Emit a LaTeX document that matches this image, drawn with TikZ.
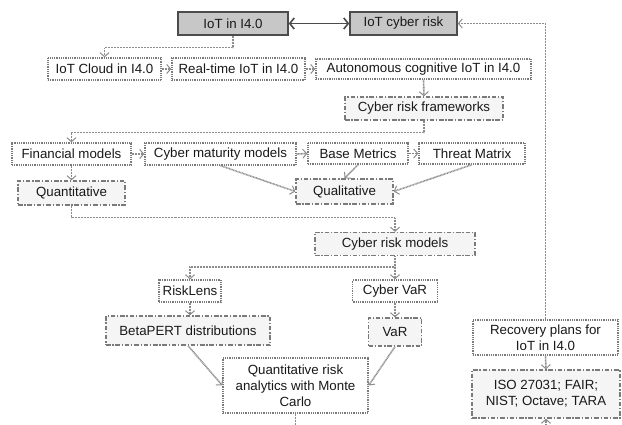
\documentclass[tikz,border=0pt]{standalone}
\usepackage{fontspec}
\setmainfont{Liberation Sans}
\usetikzlibrary{arrows.meta}
\begin{document}
\begin{tikzpicture}[x=1pt,y=-1pt,
  every node/.style={font=\fontsize{13.3}{16}\selectfont, text=black!90, inner sep=0pt, align=center},
  mainbox/.style={draw=black!70, line width=1.4pt, fill=black!22},
  dotbox/.style={draw=black!52, line width=1.3pt, dash pattern=on 1pt off 0.8pt, fill=white},
  ddbox/.style={draw=black!52, line width=1.3pt, dash pattern=on 4.5pt off 1.8pt on 1.3pt off 1.8pt, fill=black!4},
  conn/.style={draw=black!45, line width=1.6pt, dash pattern=on 0.9pt off 0.6pt,
     -{Straight Barb[length=4pt,width=9pt,line width=1pt]}},
  dbl/.style={draw=black!70, line width=1.6pt, {Straight Barb[length=4.5pt,width=11pt]}-{Straight Barb[length=4.5pt,width=11pt]}}
]
\useasboundingbox (0,0) rectangle (622,425);

\node[mainbox, minimum width=110, minimum height=23] (iot) at (233,23.5) {IoT in I4.0};
\node[mainbox, minimum width=107, minimum height=23] (cyber) at (403.5,23.5) {IoT cyber risk};

\node[dotbox, minimum width=113, minimum height=22] (cloud) at (104.5,69) {IoT Cloud in I4.0};
\node[dotbox, minimum width=133, minimum height=22] (rt) at (238.5,69) {Real-time IoT in I4.0};
\node[dotbox, minimum width=215, minimum height=20] (auto) at (423.5,69) {Autonomous cognitive IoT in I4.0};
\node[ddbox, minimum width=158, minimum height=23] (crf) at (424,108.5) {Cyber risk frameworks};

\node[dotbox, minimum width=119, minimum height=22] (fin) at (71.5,154) {Financial models};
\node[dotbox, minimum width=151, minimum height=22] (cmm) at (220.5,154) {Cyber maturity models};
\node[dotbox, minimum width=100, minimum height=21] (bm) at (358,153.5) {Base Metrics};
\node[dotbox, minimum width=106, minimum height=21] (tm) at (472,153.5) {Threat Matrix};

\node[ddbox, minimum width=107, minimum height=24] (quant) at (71.5,193) {Quantitative};
\node[ddbox, minimum width=97, minimum height=25] (qual) at (344.5,191.5) {Qualitative};

\node[ddbox, minimum width=160, minimum height=23] (crm) at (395,244) {Cyber risk models};
\node[dotbox, minimum width=62, minimum height=22] (rl) at (190,291) {RiskLens};
\node[dotbox, minimum width=85, minimum height=22] (cvar) at (395,291) {Cyber VaR};
\node[ddbox, minimum width=164, minimum height=29] (beta) at (188,330.5) {BetaPERT distributions};
\node[ddbox, minimum width=53, minimum height=28] (var) at (395,332) {VaR};
\node[dotbox, minimum width=145, minimum height=55] (qra) at (295.5,385.5) {Quantitative risk\\analytics with Monte\\Carlo};

\node[dotbox, minimum width=145, minimum height=35] (rec) at (545.5,337.5) {Recovery plans for\\IoT in I4.0};
\node[ddbox, minimum width=148, minimum height=48] (iso) at (546,394) {ISO 27031; FAIR;\\NIST; Octave; TARA};

\draw[dbl] (iot.east) -- (cyber.west);

\draw[conn] (iot.south) -- ++(0,12) -| (cloud.north);
\draw[conn] (cloud.east) -- (rt.west);
\draw[conn] (rt.east) -- (auto.west);
\draw[conn] (auto.south) -- (crf.north);
\draw[conn] (crf.south) -- ++(0,12) -| (fin.north);
\draw[conn] (fin.east) -- (cmm.west);
\draw[conn] (cmm.east) -- (bm.west);
\draw[conn] (bm.east) -- (tm.west);
\draw[conn] (fin.south) -- (quant.north);
\draw[conn] (cmm.south) -- (qual.west);
\draw[conn] (bm.south) -- (qual.north);
\draw[conn] (tm.south) -- (qual.east);
\draw[conn] (quant.south) -- ++(0,12) -| (crm.north);
\draw[conn] (crm.south) -- ++(0,11) -| (rl.north);
\draw[conn] (crm.south) -- (cvar.north);
\draw[conn] (rl.south) -- (beta.north -| rl.south);
\draw[conn] (cvar.south) -- (var.north);
\draw[conn] (beta.south) -- (qra.west);
\draw[conn] (var.south) -- (qra.east);
\draw[conn] (qra.south) -- ++(0,25) -| (iso.south);
\draw[conn] (rec.south) -- (iso.north);
\draw[conn] (rec.north) |- (cyber.east);
\end{tikzpicture}
\end{document}
